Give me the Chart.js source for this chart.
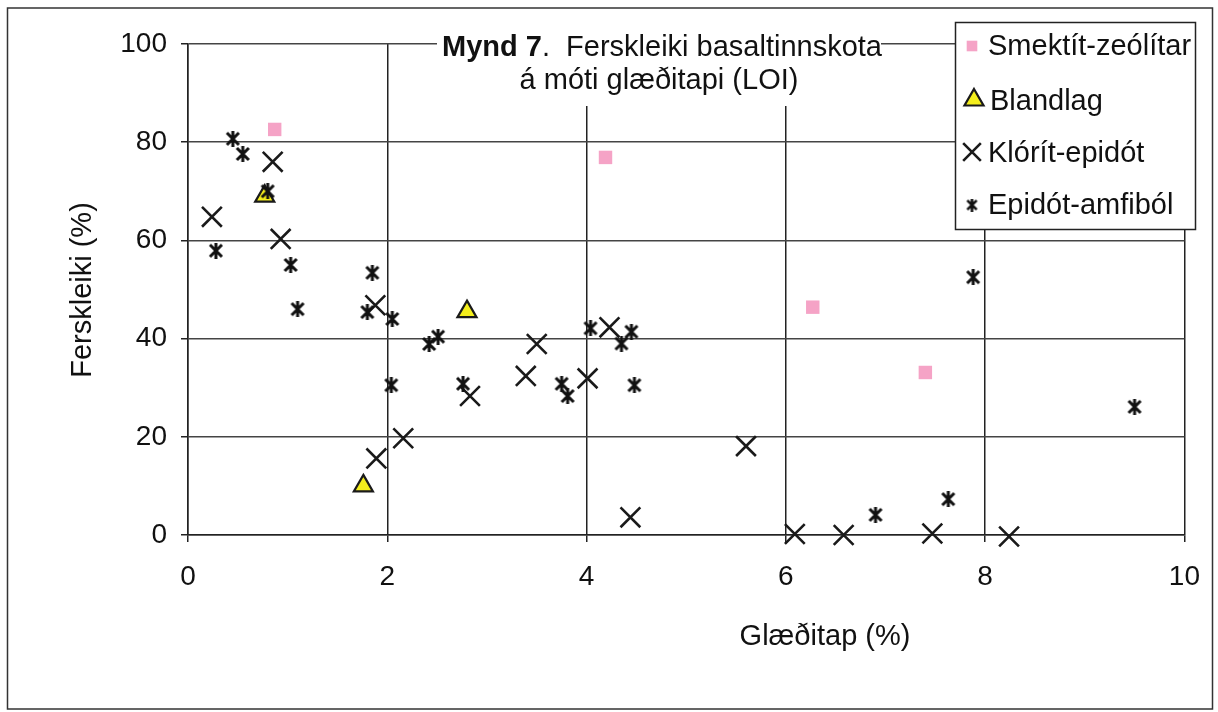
<!DOCTYPE html>
<html>
<head>
<meta charset="utf-8">
<script src="https://cdn.jsdelivr.net/npm/chart.js@4.4.1/dist/chart.umd.min.js"></script>
<style>
  html, body { margin: 0; padding: 0; background: #fff; }
  #wrap { width: 1218px; height: 712px; position: relative; }
</style>
</head>
<body>
<div id="wrap"><canvas id="chart"></canvas></div>
<script>
// gögn lesin af myndinni
const smektitX = [0.87, 4.19, 6.27, 7.40];
const smektitY = [82.6, 76.9, 46.4, 33.1];

const blandlagX = [0.77, 2.80, 1.76];
const blandlagY = [69.0, 45.5, 10.0];

const kloritX = [0.24, 0.85, 0.93, 1.88, 1.89, 2.16, 2.83, 3.50, 3.39, 4.01, 4.23, 4.44, 5.60, 6.09, 6.58, 7.47, 8.24];
const kloritY = [64.8, 76.0, 60.3, 46.8, 15.6, 19.7, 28.3, 38.9, 32.4, 31.9, 42.3, 3.6, 18.1, 0.2, 0.0, 0.3, -0.3];

const epidotX = [0.45, 0.55, 0.80, 0.28, 1.03, 1.10, 1.85, 1.80, 2.05, 2.04, 2.42, 2.51, 2.76, 3.75, 3.81, 4.04, 4.35, 4.45, 4.48, 6.90, 7.63, 7.88, 9.50];
const epidotY = [80.7, 77.6, 70.0, 57.9, 55.0, 46.0, 53.4, 45.4, 44.0, 30.5, 38.9, 40.4, 30.8, 30.8, 28.3, 42.1, 39.0, 41.4, 30.5, 4.1, 7.3, 52.5, 26.1];

const seriesNames = ["Smektít-zeólítar", "Blandlag", "Klórít-epidót", "Epidót-amfiból"];
const xTicks = [0, 2, 4, 6, 8, 10];
const yTicks = [0, 20, 40, 60, 80, 100];

const FONT = "'Liberation Sans', Arial, sans-serif";

function pts(xs, ys) {
  return xs.map((x, i) => ({ x: x, y: ys[i] }));
}

// stjörnumerki eins og í Excel: X með lóðréttu striki
function makeAsterisk(size, lw) {
  const c = document.createElement("canvas");
  c.width = size; c.height = size;
  const g = c.getContext("2d");
  g.strokeStyle = "#111";
  g.lineWidth = lw;
  const m = lw / 2 + 0.5;
  g.beginPath();
  g.moveTo(m, m); g.lineTo(size - m, size - m);
  g.moveTo(size - m, m); g.lineTo(m, size - m);
  g.moveTo(size / 2, 0); g.lineTo(size / 2, size);
  g.stroke();
  return c;
}
const asteriskBig = makeAsterisk(16, 3);
const asteriskSmall = makeAsterisk(13, 2.6);

const pink = "#f5a3c6";

// auka texti, rammi, titill og skýringar
const extras = {
  id: "extras",
  beforeDraw(chart) {
    const ctx = chart.ctx;
    ctx.save();
    ctx.fillStyle = "#fff";
    ctx.fillRect(0, 0, chart.width, chart.height);
    ctx.restore();
  },
  afterDraw(chart) {
    const ctx = chart.ctx;
    ctx.save();
    // ytri rammi
    ctx.strokeStyle = "#333";
    ctx.lineWidth = 1.5;
    ctx.strokeRect(7.5, 8, 1205, 701);

    // titill
    ctx.fillStyle = "#fff";
    ctx.fillRect(437, 28, 444, 78);
    ctx.fillStyle = "#111";
    ctx.textBaseline = "alphabetic";
    const bold = "bold 29px " + FONT;
    const norm = "29px " + FONT;
    const part1 = "Mynd 7";
    const part2 = ".  Ferskleiki basaltinnskota";
    ctx.font = bold;
    const w1 = ctx.measureText(part1).width;
    ctx.font = norm;
    const w2 = ctx.measureText(part2).width;
    let sx = 662 - (w1 + w2) / 2;
    ctx.textAlign = "left";
    ctx.font = bold;
    ctx.fillText(part1, sx, 56);
    ctx.font = norm;
    ctx.fillText(part2, sx + w1, 56);
    ctx.textAlign = "center";
    ctx.fillText("á móti glæðitapi (LOI)", 659, 89);

    // ástitlar
    ctx.fillText("Glæðitap (%)", 825, 645);
    ctx.save();
    ctx.translate(91, 290);
    ctx.rotate(-Math.PI / 2);
    ctx.fillText("Ferskleiki (%)", 0, 0);
    ctx.restore();

    // skýringar
    ctx.fillStyle = "#fff";
    ctx.fillRect(955, 22, 241, 208);
    ctx.strokeStyle = "#222";
    ctx.lineWidth = 1.5;
    ctx.strokeRect(955.5, 22.5, 240, 207);
    const rows = [55, 110, 162, 214];
    const symY = [46, 100, 152, 205];
    chart.data.datasets.forEach((ds, i) => {
      const sy = symY[i];
      ctx.fillStyle = ds.backgroundColor;
      ctx.strokeStyle = ds.borderColor;
      ctx.lineWidth = ds.borderWidth;
      if (i === 3) {
        ctx.drawImage(asteriskSmall, 972 - 6.5, sy - 6.5);
      } else {
        const r = i === 0 ? 7.5 : (i === 1 ? 11 : 12.5);
        Chart.helpers.drawPoint(ctx, {
          pointStyle: ds.pointStyle, radius: r, rotation: 0, borderWidth: ds.borderWidth
        }, i === 1 ? 974 : 972, sy);
      }
      ctx.fillStyle = "#111";
      ctx.textAlign = "left";
      ctx.font = norm;
      ctx.fillText(ds.label, i === 1 ? 990 : 988, rows[i]);
    });
    ctx.restore();
  }
};

new Chart(document.getElementById("chart"), {
  type: "scatter",
  data: {
    datasets: [
      {
        label: seriesNames[0], data: pts(smektitX, smektitY),
        pointStyle: "rect", pointRadius: 9.5, pointHoverRadius: 9.5,
        backgroundColor: pink, borderColor: pink, borderWidth: 0, order: 3, clip: false
      },
      {
        label: seriesNames[1], data: pts(blandlagX, blandlagY),
        pointStyle: "triangle", pointRadius: 11, pointHoverRadius: 11,
        backgroundColor: "#f4ee1c", borderColor: "#1a1a1a", borderWidth: 2.2, order: 2, clip: false
      },
      {
        label: seriesNames[2], data: pts(kloritX, kloritY),
        pointStyle: "crossRot", pointRadius: 14, pointHoverRadius: 14,
        backgroundColor: "#1a1a1a", borderColor: "#1a1a1a", borderWidth: 2.6, order: 1, clip: false
      },
      {
        label: seriesNames[3], data: pts(epidotX, epidotY),
        pointStyle: asteriskBig, pointRadius: 8, pointHoverRadius: 8,
        backgroundColor: "#111", borderColor: "#111", borderWidth: 2.5, order: 0, clip: false
      }
    ]
  },
  options: {
    responsive: true,
    maintainAspectRatio: false,
    animation: false,
    events: [],
    layout: { padding: { left: 0, right: 32, top: 44, bottom: 0 } },
    plugins: {
      legend: { display: false },
      tooltip: { enabled: false },
      title: { display: false }
    },
    scales: {
      x: {
        type: "linear", min: 0, max: 10,
        afterFit: (s) => { s.height = 177; },
        afterBuildTicks: (s) => { s.ticks = xTicks.map(v => ({ value: v })); },
        grid: { color: "#222", lineWidth: 1.5, tickLength: 7, tickColor: "#222" },
        border: { color: "#222", width: 1.5 },
        ticks: { color: "#111", font: { family: FONT, size: 28 }, padding: 18, maxRotation: 0 }
      },
      y: {
        type: "linear", min: 0, max: 100,
        afterFit: (s) => { s.width = 188; },
        afterBuildTicks: (s) => { s.ticks = yTicks.map(v => ({ value: v })); },
        grid: { color: "#444", lineWidth: 1.5, tickLength: 7, tickColor: "#222" },
        border: { color: "#222", width: 1.5 },
        ticks: { color: "#111", font: { family: FONT, size: 28 }, padding: 14 }
      }
    }
  },
  plugins: [extras]
});
</script>
</body>
</html>
